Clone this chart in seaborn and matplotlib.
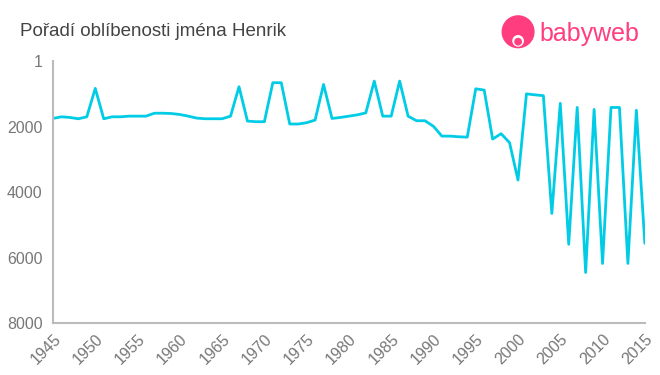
import matplotlib
matplotlib.use("Agg")
import matplotlib.pyplot as plt
import seaborn as sns
import pandas as pd
from matplotlib.patches import Circle

years = list(range(1945, 2016))
ranks = [1750, 1700, 1720, 1760, 1700, 833, 1760, 1700, 1700, 1680,
         1680, 1680, 1590, 1590, 1600, 1630, 1680, 1740, 1760, 1760,
         1760, 1680, 783, 1830, 1850, 1850, 660, 660, 1920, 1920,
         1880, 1800, 712, 1750, 1720, 1680, 1640, 1580, 610, 1680,
         1680, 610, 1680, 1820, 1820, 1990, 2290, 2290, 2310, 2320,
         845, 885, 2380, 2215, 2490, 3630, 1000, 1030, 1055, 4650,
         1290, 5590, 1415, 6450, 1475, 6175, 1415, 1415, 6175, 1500,
         5560]
y_ticks = [1, 2000, 4000, 6000, 8000]
x_ticks = list(range(1945, 2016, 5))
title = "Pořadí oblíbenosti jména Henrik"

df = pd.DataFrame({"year": years, "rank": ranks})

sns.set_style("white")
plt.rcParams["font.family"] = ["Liberation Sans", "DejaVu Sans"]

fig = plt.figure(figsize=(6.6, 3.75), dpi=100)
ax = fig.add_axes([0.0803, 0.138, 0.8967, 0.699])
sns.lineplot(data=df, x="year", y="rank", ax=ax, color="#00CCE6", linewidth=2)

ax.set_xlim(1945, 2015)
ax.set_ylim(8000, 1)
ax.set_yticks(y_ticks)
ax.set_yticklabels([str(v) for v in y_ticks])
ax.set_xticks(x_ticks)
ax.set_xticklabels([str(v) for v in x_ticks], rotation=45, ha="right",
                   rotation_mode="anchor")
ax.set_xlabel("")
ax.set_ylabel("")
for s in ["top", "right"]:
    ax.spines[s].set_visible(False)
for s in ["left", "bottom"]:
    ax.spines[s].set_color("#BBBBBB")
    ax.spines[s].set_linewidth(1.5)
ax.tick_params(axis="both", colors="#BBBBBB", length=4, width=1.2,
               labelcolor="#777777", labelsize=11.5, direction="out")
ax.tick_params(axis="x", pad=2)
ax.grid(False)

fig.text(0.03, 0.915, title, fontsize=13.5, color="#444444", va="center", ha="left")

# babyweb logo
lax = fig.add_axes([0.755, 0.835, 0.06, 0.15])
lax.set_xlim(0, 1)
lax.set_ylim(0, 1)
lax.set_aspect("equal")
lax.axis("off")
lax.add_patch(Circle((0.5, 0.55), 0.40, color="#FF3D7F"))
lax.add_patch(Circle((0.5, 0.32), 0.13, color="white"))
lax.add_patch(Circle((0.5, 0.30), 0.08, color="#FF3D7F"))
fig.text(0.818, 0.908, "babyweb", fontsize=18, color="#FF3D7F",
         va="center", ha="left")

fig.savefig("out.png", dpi=100)
